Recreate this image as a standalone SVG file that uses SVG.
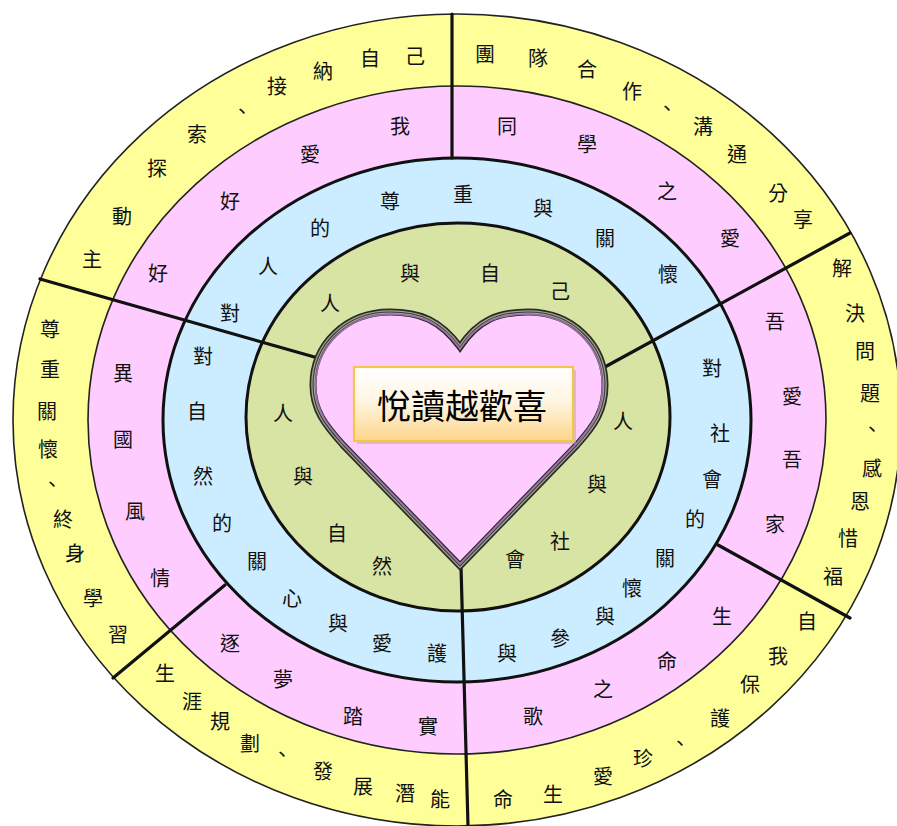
<svg xmlns="http://www.w3.org/2000/svg" width="897" height="826" viewBox="0 0 897 826">
<defs>
<linearGradient id="boxg" x1="0" y1="0" x2="0" y2="1">
<stop offset="0" stop-color="#FFFFFF"/>
<stop offset="0.45" stop-color="#FFF6E4"/>
<stop offset="1" stop-color="#FCD58A"/>
</linearGradient>
<path id="hp" d="M460,347 C440,320 420,312 390,312 C345,312 313,345 313,385 C313,410 325,425 343,445 L460,566 L577,445 C595,425 605,410 605,385 C605,345 573,312 528,312 C498,312 478,320 460,347 Z"/>
<style>
.t{font-family:"Noto Sans CJK TC","Noto Sans CJK SC",sans-serif;font-size:20px;fill:#111;text-anchor:middle;dominant-baseline:central}
.div{stroke:#111;stroke-width:3.2;stroke-linecap:round;fill:none}
.thin{stroke:#222;stroke-width:1.6}
.thick{stroke:#111;stroke-width:3}
</style>
</defs>
<rect width="897" height="826" fill="#FFFFFF"/>
<g id="rings">
<ellipse id="ring-yellow" cx="457" cy="420" rx="444" ry="406" fill="#FFFF99" class="thin"/>
<ellipse id="ring-pink" cx="457" cy="420" rx="369" ry="334" fill="#FFCCFF" class="thin"/>
<ellipse id="ring-blue" cx="457" cy="420" rx="294" ry="262" fill="#CCECFF" class="thick"/>
<ellipse id="ring-green" cx="458" cy="417" rx="212" ry="194" fill="#D8E4A4" class="thick"/>
</g>
<g id="connectors">
<line class="div" x1="452" y1="14" x2="452" y2="158"/>
<line class="div" x1="40" y1="279" x2="318" y2="358"/>
<line class="div" x1="850" y1="233" x2="603" y2="368"/>
<line class="div" x1="718" y1="545" x2="850" y2="618"/>
<line class="div" x1="225" y1="585" x2="113" y2="678"/>
<line class="div" x1="461" y1="566" x2="468" y2="826"/>
</g>
<g id="heart">
<use href="#hp" fill="#FFCCFF" stroke="#2a2a2a" stroke-width="7"/>
<use href="#hp" fill="none" stroke="#a3a38e" stroke-width="3.6"/>
<use href="#hp" fill="none" stroke="#3a3a3a" stroke-width="1.1"/>
<use href="#hp" fill="none" stroke="#9b6fae" stroke-width="1.6" transform="translate(459 440) scale(0.982) translate(-459 -440)"/>
</g>
<g id="title">
<rect x="357" y="370" width="219" height="74" fill="#b8a888" opacity="0.5"/>
<rect x="354" y="367" width="219" height="74" fill="url(#boxg)" stroke="#F7C545" stroke-width="2.2"/>
<text x="462" y="404" style="font-family:'Noto Sans CJK TC','Noto Sans CJK SC',serif;font-size:34px;fill:#000;text-anchor:middle;dominant-baseline:central">悅讀越歡喜</text>
</g>
<g id="outer-upper-left">
<text class="t" x="92" y="258">主</text><text class="t" x="122" y="215">動</text><text class="t" x="157" y="167">探</text><text class="t" x="197" y="133">索</text><text class="t" x="242" y="110">、</text><text class="t" x="277" y="85">接</text><text class="t" x="323" y="70">納</text><text class="t" x="370" y="57">自</text><text class="t" x="415" y="55">己</text>
</g>
<g id="outer-upper-right">
<text class="t" x="485" y="53">團</text><text class="t" x="538" y="57">隊</text><text class="t" x="587" y="68">合</text><text class="t" x="632" y="90">作</text><text class="t" x="667" y="107">、</text><text class="t" x="703" y="125">溝</text><text class="t" x="737" y="153">通</text><text class="t" x="778" y="192">分</text><text class="t" x="803" y="218">享</text>
</g>
<g id="outer-right">
<text class="t" x="842" y="267">解</text><text class="t" x="855" y="312">決</text><text class="t" x="865" y="350">問</text><text class="t" x="870" y="392">題</text><text class="t" x="872" y="428">、</text><text class="t" x="872" y="467">感</text><text class="t" x="860" y="500">恩</text><text class="t" x="848" y="537">惜</text><text class="t" x="833" y="575">福</text>
</g>
<g id="outer-lower-right">
<text class="t" x="807" y="620">自</text><text class="t" x="778" y="655">我</text><text class="t" x="750" y="683">保</text><text class="t" x="720" y="717">護</text><text class="t" x="680" y="742">、</text><text class="t" x="643" y="757">珍</text><text class="t" x="603" y="775">愛</text><text class="t" x="553" y="793">生</text><text class="t" x="503" y="798">命</text>
</g>
<g id="outer-lower-left">
<text class="t" x="165" y="672">生</text><text class="t" x="192" y="700">涯</text><text class="t" x="220" y="720">規</text><text class="t" x="250" y="742">劃</text><text class="t" x="282" y="753">、</text><text class="t" x="323" y="770">發</text><text class="t" x="363" y="785">展</text><text class="t" x="405" y="792">潛</text><text class="t" x="440" y="798">能</text>
</g>
<g id="outer-left">
<text class="t" x="50" y="328">尊</text><text class="t" x="50" y="368">重</text><text class="t" x="47" y="410">關</text><text class="t" x="48" y="448">懷</text><text class="t" x="52" y="483">、</text><text class="t" x="63" y="518">終</text><text class="t" x="75" y="552">身</text><text class="t" x="93" y="597">學</text><text class="t" x="118" y="633">習</text>
</g>
<g id="pink-upper-left">
<text class="t" x="400" y="125">我</text><text class="t" x="310" y="153">愛</text><text class="t" x="230" y="200">好</text><text class="t" x="158" y="272">好</text>
</g>
<g id="pink-upper-right">
<text class="t" x="507" y="125">同</text><text class="t" x="587" y="143">學</text><text class="t" x="667" y="190">之</text><text class="t" x="730" y="237">愛</text>
</g>
<g id="pink-right">
<text class="t" x="775" y="320">吾</text><text class="t" x="792" y="395">愛</text><text class="t" x="792" y="458">吾</text><text class="t" x="775" y="523">家</text>
</g>
<g id="pink-lower-right">
<text class="t" x="722" y="615">生</text><text class="t" x="667" y="660">命</text><text class="t" x="603" y="688">之</text><text class="t" x="533" y="715">歌</text>
</g>
<g id="pink-lower-left">
<text class="t" x="230" y="642">逐</text><text class="t" x="283" y="678">夢</text><text class="t" x="353" y="715">踏</text><text class="t" x="428" y="725">實</text>
</g>
<g id="pink-left">
<text class="t" x="123" y="372">異</text><text class="t" x="123" y="438">國</text><text class="t" x="135" y="510">風</text><text class="t" x="160" y="577">情</text>
</g>
<g id="blue-upper">
<text class="t" x="230" y="312">對</text><text class="t" x="268" y="265">人</text><text class="t" x="320" y="227">的</text><text class="t" x="390" y="200">尊</text><text class="t" x="463" y="193">重</text><text class="t" x="543" y="207">與</text><text class="t" x="605" y="237">關</text><text class="t" x="668" y="273">懷</text>
</g>
<g id="blue-right">
<text class="t" x="712" y="367">對</text><text class="t" x="720" y="432">社</text><text class="t" x="712" y="478">會</text><text class="t" x="695" y="518">的</text><text class="t" x="665" y="557">關</text><text class="t" x="632" y="587">懷</text><text class="t" x="605" y="615">與</text><text class="t" x="560" y="637">參</text><text class="t" x="507" y="652">與</text>
</g>
<g id="blue-left">
<text class="t" x="203" y="355">對</text><text class="t" x="197" y="410">自</text><text class="t" x="203" y="475">然</text><text class="t" x="222" y="522">的</text><text class="t" x="257" y="560">關</text><text class="t" x="292" y="597">心</text><text class="t" x="338" y="622">與</text><text class="t" x="382" y="642">愛</text><text class="t" x="437" y="652">護</text>
</g>
<g id="green-upper">
<text class="t" x="330" y="302">人</text><text class="t" x="410" y="272">與</text><text class="t" x="490" y="272">自</text><text class="t" x="560" y="290">己</text>
</g>
<g id="green-right">
<text class="t" x="623" y="420">人</text><text class="t" x="597" y="483">與</text><text class="t" x="560" y="540">社</text><text class="t" x="515" y="558">會</text>
</g>
<g id="green-left">
<text class="t" x="283" y="412">人</text><text class="t" x="303" y="475">與</text><text class="t" x="337" y="532">自</text><text class="t" x="382" y="565">然</text>
</g>
</svg>
